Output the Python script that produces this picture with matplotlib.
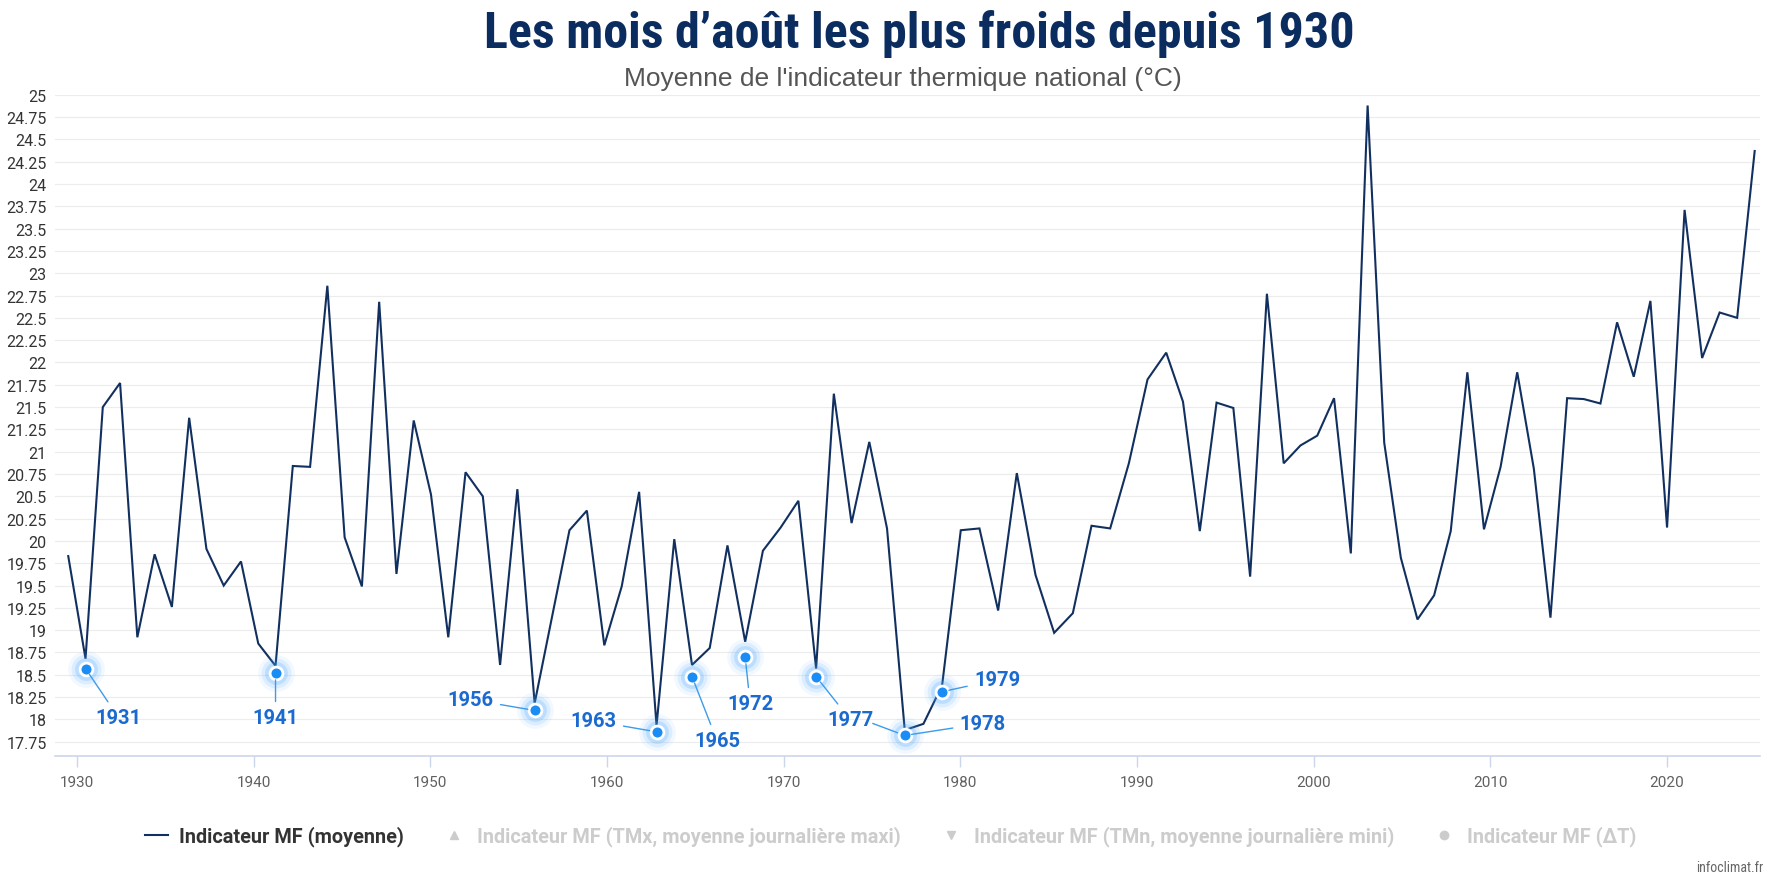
import numpy as np
import matplotlib
matplotlib.use("Agg")
import matplotlib.pyplot as plt
from matplotlib.lines import Line2D

# August mean of the national thermal indicator, one value per point, in chart order
aug_mean = [
    19.83, 18.68, 21.50, 21.77, 18.92, 19.85, 19.26, 21.38, 19.91, 19.50,
    19.77, 18.85, 18.60, 20.84, 20.83, 22.86, 20.04, 19.49, 22.68, 19.63,
    21.35, 20.52, 18.92, 20.77, 20.50, 18.61, 20.58, 18.18, 19.15, 20.12,
    20.34, 18.83, 19.49, 20.55, 17.93, 20.02, 18.61, 18.80, 19.95, 18.87,
    19.89, 20.15, 20.45, 18.57, 21.65, 20.20, 21.11, 20.14, 17.88, 17.95,
    18.38, 20.12, 20.14, 19.22, 20.76, 19.62, 18.97, 19.19, 20.17, 20.14,
    20.87, 21.81, 22.11, 21.56, 20.11, 21.55, 21.49, 19.60, 22.77, 20.87,
    21.07, 21.18, 21.60, 19.86, 24.88, 21.10, 19.81, 19.12, 19.39, 20.11,
    21.89, 20.13, 20.83, 21.89, 20.81, 19.14, 21.60, 21.59, 21.54, 22.45,
    21.84, 22.69, 20.15, 23.71, 22.05, 22.56, 22.50, 24.37,
]
# where some of the points sit on the time axis (point index -> year)
anchor_idx = [0, 27, 34, 48, 62, 74, 85, 92, 97]
anchor_year = [1929.5, 1955.9, 1962.8, 1976.85, 1991.65, 2003.05, 2013.4, 2020.0, 2024.96]

# highlighted cold Augusts (label, index of the point in the series, value of the marker)
cold_labels = ["1931", "1941", "1956", "1963", "1965", "1972", "1977", "1978", "1979"]
cold_index = [1, 12, 27, 34, 36, 39, 43, 48, 50]
cold_values = [18.57, 18.52, 18.10, 17.86, 18.48, 18.70, 18.48, 17.82, 18.31]

x_ticks = [1930, 1940, 1950, 1960, 1970, 1980, 1990, 2000, 2010, 2020]
y_ticks = np.arange(17.75, 25.01, 0.25)

legend_labels = [
    "Indicateur MF (moyenne)",
    "Indicateur MF (TMx, moyenne journalière maxi)",
    "Indicateur MF (TMn, moyenne journalière mini)",
    "Indicateur MF (ΔT)",
]

CONDENSED = ["Roboto Condensed", "DejaVu Sans"]
ROBOTO = ["Roboto", "DejaVu Sans"]
NAVY = "#12305f"
DOT = "#1a8cf5"
LABEL = "#1a6ad0"
LEADER = "#3d9be9"

fig = plt.figure(figsize=(17.74, 8.87), dpi=100)
ax = fig.add_axes([0.031, 0.1466, 0.961, 0.7454])

xs = np.interp(np.arange(len(aug_mean)), anchor_idx, anchor_year)
ax.plot(xs, aug_mean, color=NAVY, lw=1.5, zorder=3, solid_joinstyle="miter")

cx = xs[cold_index]
for s, a in [(700, 0.07), (460, 0.13), (270, 0.22)]:
    ax.scatter(cx, cold_values, s=s, color="#4aa8ff", alpha=a, lw=0, zorder=4)
ax.scatter(cx, cold_values, s=85, color=DOT, edgecolors="white", linewidths=2, zorder=5)

offsets = {
    "1931": (33, -49), "1941": (0, -45), "1956": (-64, 11), "1963": (-63, 11),
    "1965": (25, -64), "1972": (5, -47), "1977": (34, -43), "1978": (78, 12),
    "1979": (55, 12),
}
for lab, x, y in zip(cold_labels, cx, cold_values):
    ax.annotate(lab, xy=(x, y), xytext=offsets[lab], textcoords="offset pixels",
                ha="center", va="center", fontsize=14.5, fontweight="bold",
                color=LABEL, family=ROBOTO, zorder=6,
                arrowprops=dict(arrowstyle="-", color=LEADER, lw=1,
                                shrinkA=3, shrinkB=5))
# second leader from the 1977 label towards the lowest marker
ax.annotate("", xy=(cx[7], cold_values[7]), xytext=(-32, 12), textcoords="offset pixels",
            arrowprops=dict(arrowstyle="-", color=LEADER, lw=1, shrinkA=0, shrinkB=5))

ax.set_xlim(1928.75, 2025.25)
ax.set_ylim(17.59, 25.0)
ax.set_yticks(y_ticks)
ax.set_yticklabels([f"{v:g}" for v in y_ticks], family=ROBOTO, fontsize=11.5,
                   color="#333333")
ax.set_xticks(x_ticks)
ax.set_xticklabels([str(v) for v in x_ticks], family=ROBOTO, fontsize=11,
                   color="#606060")
ax.tick_params(axis="y", length=0, pad=6)
ax.tick_params(axis="x", length=8, width=1, color="#ccd6eb", pad=6)
ax.grid(axis="y", color="#ececec", lw=0.8)
ax.set_axisbelow(True)
for side in ["top", "right", "left"]:
    ax.spines[side].set_visible(False)
ax.spines["bottom"].set_color("#ccd6eb")
ax.spines["bottom"].set_linewidth(1.2)

fig.text(0.518, 0.962, "Les mois d’août les plus froids depuis 1930", ha="center", va="center",
         fontsize=36, fontweight="bold", color="#0b2c5f", family=CONDENSED)
fig.text(0.509, 0.911, "Moyenne de l'indicateur thermique national (°C)", ha="center",
         va="center", fontsize=19, color="#555555", family=["Liberation Sans", "DejaVu Sans"])

handles = [
    Line2D([], [], color=NAVY, lw=1.5),
    Line2D([], [], ls="none", marker="^", color="#cccccc", markersize=6),
    Line2D([], [], ls="none", marker="v", color="#cccccc", markersize=6),
    Line2D([], [], ls="none", marker="o", color="#cccccc", markersize=6),
]
leg = fig.legend(handles, legend_labels, loc="center", bbox_to_anchor=(0.502, 0.0564),
                 ncol=4, frameon=False, handlelength=1.15, handletextpad=0.57,
                 columnspacing=1.95,
                 prop=dict(family=ROBOTO, size=14.3, weight="bold"))
for i, t in enumerate(leg.get_texts()):
    t.set_color("#333333" if i == 0 else "#cccccc")

fig.text(0.994, 0.014, "infoclimat.fr", ha="right", va="bottom", fontsize=10,
         color="#666666", family=CONDENSED)

fig.savefig("out.png", dpi=100, facecolor="white")
